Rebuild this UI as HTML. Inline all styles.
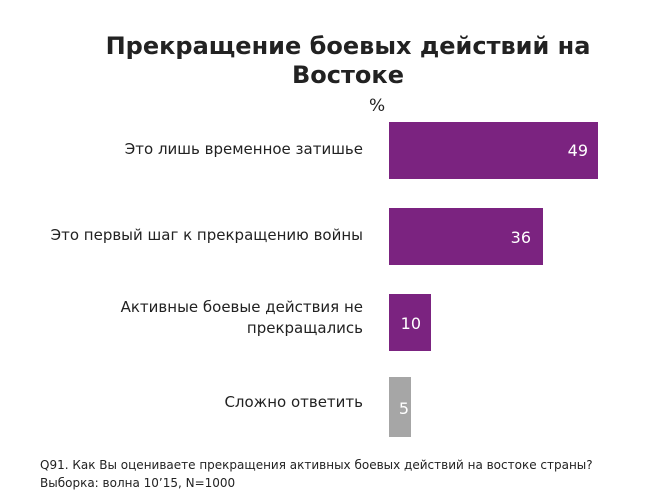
<!DOCTYPE html>
<html><head><meta charset="utf-8"><style>
body{margin:0;width:668px;height:504px;background:#fff;position:relative;font-family:"DejaVu Sans",sans-serif;color:#222;overflow:hidden}
.a{position:absolute}
.t{font-weight:bold;font-size:24px;text-align:center;left:50px;width:596px;top:32px;line-height:29px;color:#222}
.b{background:#7b2380;}
.v{color:#fff;font-size:16px;text-align:right;}
.l{font-size:15px;text-align:right;right:305px;width:360px;line-height:21px}
.f{font-size:12px;left:40px;line-height:18px}
</style></head><body>
<div class="a t">Прекращение боевых действий на<br>Востоке</div>
<div class="a" style="left:369px;top:96px;font-size:17px">%</div>
<div class="a b" style="left:389px;top:122px;width:209px;height:57px"></div>
<div class="a v" style="left:389px;top:141px;width:199px">49</div>
<div class="a b" style="left:389px;top:208px;width:154px;height:57px"></div>
<div class="a v" style="left:389px;top:228px;width:142px">36</div>
<div class="a b" style="left:389px;top:294px;width:42px;height:57px"></div>
<div class="a v" style="left:389px;top:314px;width:32px">10</div>
<div class="a" style="left:389px;top:377px;width:22px;height:60px;background:#a6a6a6"></div>
<div class="a v" style="left:389px;top:399px;width:20px">5</div>
<div class="a l" style="top:139px">Это лишь временное затишье</div>
<div class="a l" style="top:225px">Это первый шаг к прекращению войны</div>
<div class="a l" style="top:297px">Активные боевые действия не<br>прекращались</div>
<div class="a l" style="top:392px">Сложно ответить</div>
<div class="a f" style="top:456px">Q91. Как Вы оцениваете прекращения активных боевых действий на востоке страны?<br>Выборка: волна 10’15, N=1000</div>
</body></html>
